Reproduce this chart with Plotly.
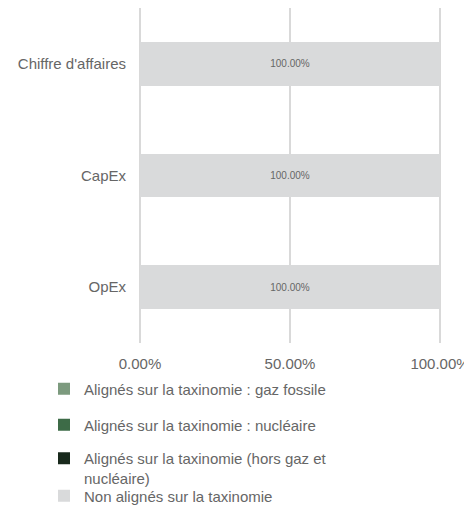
import plotly.graph_objects as go

categories = ["Chiffre d'affaires", "CapEx", "OpEx"]
series_names = [
    "Alignés sur la taxinomie : gaz fossile",
    "Alignés sur la taxinomie : nucléaire",
    "Alignés sur la taxinomie (hors gaz et<br>nucléaire)",
    "Non alignés sur la taxinomie",
]
gaz_fossile = [0.0, 0.0, 0.0]
nucleaire = [0.0, 0.0, 0.0]
hors_gaz_nucleaire = [0.0, 0.0, 0.0]
non_alignes = [100.0, 100.0, 100.0]
tick_vals = [0, 50, 100]
tick_labels = ["0.00%", "50.00%", "100.00%"]

colors = ["#7c9a7e", "#3d6b47", "#18291c", "#d9dadb"]
values = [gaz_fossile, nucleaire, hors_gaz_nucleaire, non_alignes]
legend_ids = ["legend", "legend2", "legend3", "legend4"]

FONT = "Liberation Sans, Arial, sans-serif"
TXT = "#666666"

# page has an 8px body margin; figure coordinates = page - 8
W, H = 464, 498
L, R, T, B = 129, 29, 0, 163
plot_h = H - T - B
plot_w = W - L - R

def fig_y_to_paper(fy):
    return (H - B - fy) / plot_h

def fig_x_to_paper(fx):
    return (fx - L) / plot_w

fig = go.Figure()
for name, vals, col, lg in zip(series_names, values, colors, legend_ids):
    txt = [f"{v:.2f}%" if v > 0 else "" for v in vals]
    fig.add_trace(go.Bar(
        y=categories, x=vals, name=name, orientation="h",
        marker=dict(color=col, line=dict(width=0)),
        text=txt, textposition="inside", insidetextanchor="middle",
        textfont=dict(size=10, color=TXT, family=FONT),
        width=0.393, legend=lg, hoverinfo="skip",
    ))

legend_common = dict(
    font=dict(size=15, color=TXT, family=FONT),
    bgcolor="rgba(0,0,0,0)", xanchor="left", yanchor="middle",
    itemwidth=30, valign="top", tracegroupgap=0, borderwidth=0,
)
legend_centers = [381, 417, 460, 488]  # figure px
leg_x = fig_x_to_paper(36)
layout_legends = {}
for lg, cy in zip(legend_ids, legend_centers):
    layout_legends[lg] = dict(x=leg_x, y=fig_y_to_paper(cy), **legend_common)

fig.update_layout(
    width=W, height=H,
    margin=dict(l=L, r=R, t=T, b=B, autoexpand=False),
    barmode="stack",
    plot_bgcolor="white", paper_bgcolor="white",
    font=dict(family=FONT, color=TXT),
    showlegend=True,
    xaxis=dict(
        range=[-1, 101], tickvals=tick_vals, ticktext=tick_labels,
        showgrid=True, gridcolor="#d9d9d9", gridwidth=1.5,
        zeroline=False, showline=False,
        tickfont=dict(size=15, color=TXT, family=FONT),
        ticks="outside", ticklen=7, tickcolor="rgba(0,0,0,0)",
        fixedrange=True,
    ),
    yaxis=dict(
        autorange="reversed", showgrid=False, zeroline=False, showline=False,
        tickfont=dict(size=15, color=TXT, family=FONT),
        ticks="outside", ticklen=7, tickcolor="rgba(0,0,0,0)",
        fixedrange=True,
    ),
    **layout_legends,
)

fig.write_html("out.html")
